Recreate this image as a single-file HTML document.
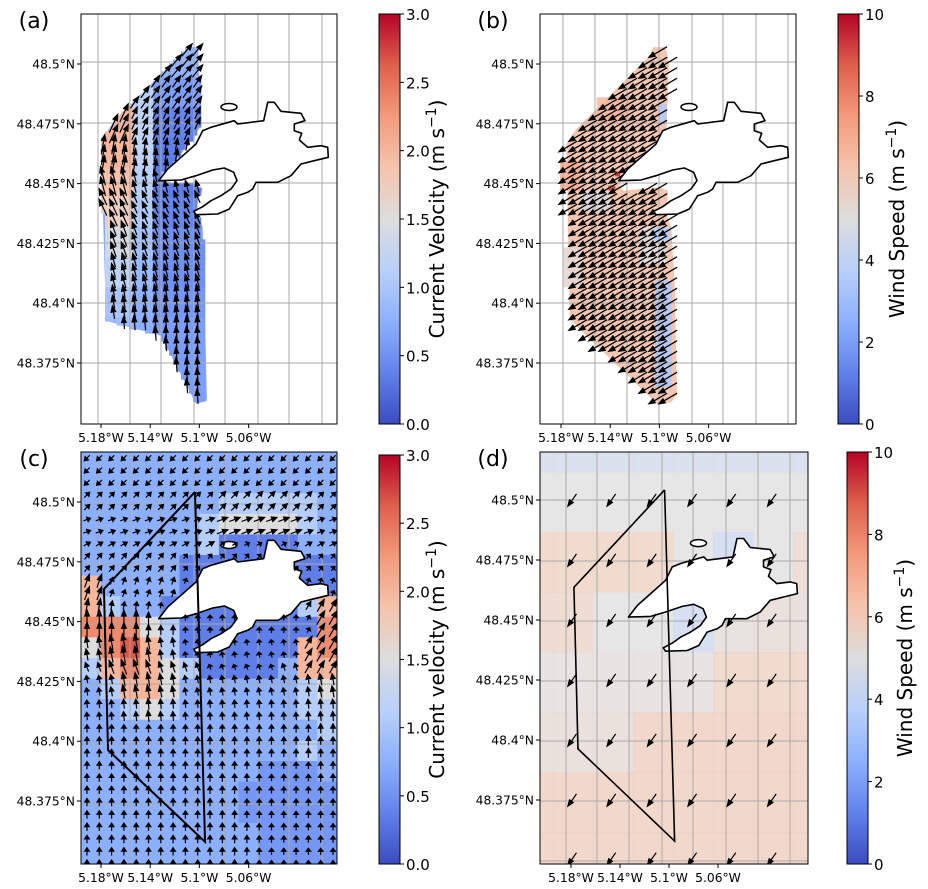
<!DOCTYPE html>
<html><head><meta charset="utf-8">
<style>
html,body{margin:0;padding:0;background:#fff;}
svg{display:block;font-family:"DejaVu Sans","Liberation Sans",sans-serif;}
</style></head>
<body>
<svg id="fig" width="928" height="889" viewBox="0 0 928 889" xmlns="http://www.w3.org/2000/svg">
<defs>
<linearGradient id="cwgrad" x1="0" y1="1" x2="0" y2="0">
<stop offset="0" stop-color="rgb(59,76,192)"/><stop offset="0.125" stop-color="rgb(98,130,234)"/>
<stop offset="0.25" stop-color="rgb(141,176,254)"/><stop offset="0.375" stop-color="rgb(184,208,249)"/>
<stop offset="0.5" stop-color="rgb(221,221,221)"/><stop offset="0.625" stop-color="rgb(245,196,173)"/>
<stop offset="0.75" stop-color="rgb(244,154,123)"/><stop offset="0.875" stop-color="rgb(222,96,77)"/>
<stop offset="1" stop-color="rgb(180,4,38)"/>
</linearGradient>
<clipPath id="clipA"><rect x="81" y="14" width="256" height="410"/></clipPath>
<clipPath id="clipB"><rect x="540" y="14" width="256" height="410"/></clipPath>
<clipPath id="clipC"><rect x="81" y="452" width="256" height="412"/></clipPath>
<clipPath id="clipD"><rect x="540" y="452" width="268" height="412"/></clipPath>
</defs>
</svg>
<script>
// ---------------- data ----------------
const lonTicks = [5.18, 5.14, 5.1, 5.06];
const lonTickLabels = ["5.18°W", "5.14°W", "5.1°W", "5.06°W"];
const latTicks = [48.5, 48.475, 48.45, 48.425, 48.4, 48.375];
const latTickLabels = ["48.5°N", "48.475°N", "48.45°N", "48.425°N", "48.4°N", "48.375°N"];
const currentTicks = [0, 0.5, 1, 1.5, 2, 2.5, 3];
const currentTickLabels = ["0.0", "0.5", "1.0", "1.5", "2.0", "2.5", "3.0"];
const windTicks = [0, 2, 4, 6, 8, 10];
const windTickLabels = ["0", "2", "4", "6", "8", "10"];
// (a) current direction per latitude band (deg clockwise from N), top->bottom
const aBandAngles = [40, 35, 25, 10, -15, -25, -20, -15, -10, -5, -5, -5];
const aBandSpeedLeft = [1.4, 1.7, 2.0, 2.0, 1.9, 1.7, 1.4, 1.2, 1.0, 0.9, 0.8, 0.8];
const aBandSpeedRight = [0.8, 0.6, 0.4, 0.35, 0.35, 0.4, 0.5, 0.5, 0.55, 0.6, 0.6, 0.6];
// (b) wind
const bWindAngle = 240;
const bWindSpeed = 6.2;
// (c) modelled current speed grid (13 cols x 20 rows), letters -> speed
const cSpeedCodes = {d:0.35, m:0.55, b:0.75, l:1.1, w:1.5, p:2.0, r:2.35, R:2.65};
const cSpeedRows = [
"bbbbbbbbbbbbb","bbbbbbbbbbbbb","bbbbbbblllllb","bbbbbblwwwwlb","bbbbbblddddbb",
"bbbbbdddddddd","pbbbbdddddddd","plbbdddddddlp","rrrwldddddddr","wrRplddddddpr",
"lprpwlddddbpp","blppwbbbbbblw","bblwlbbbbbbll","bbbbbbbbbbbbl","bbbbbbbbbbblb",
"bbbbbbbbbmmmb","bbbbbbbbmmmmm","bbbbbbbbmmmmm","bbbbbbbbbmmmm","bbbbbbbbbmmmm"];
const cAngleRows = [225,225,45,70,60,40,20,10,0,350,340,350,355,0,0,0,0,0,0,0];
// (d) modelled wind speed grid (8 cols x 8 rows)
const dSpeedRows = [
[4.5,4.5,4.5,4.5,4.5,4.5,4.5,4.5],
[5.0,5.0,5.0,5.0,5.0,5.0,5.0,5.0],
[5.8,5.8,5.8,5.8,5.0,4.3,5.0,5.5],
[5.6,5.6,5.0,5.0,4.3,5.2,5.3,5.3],
[5.1,5.1,5.1,5.1,5.1,5.8,5.8,5.8],
[5.3,5.3,5.3,5.9,5.9,5.9,5.9,5.9],
[5.9,5.9,5.9,5.9,5.9,5.9,5.9,5.9],
[5.9,5.9,5.9,5.9,5.9,5.9,5.9,5.9]];
const dArrowLons = [5.179, 5.147, 5.114, 5.081, 5.049, 5.016];
const dArrowLats = [48.5, 48.475, 48.45, 48.425, 48.4, 48.375, 48.3505];
const dWindAngle = 215;
// radar footprint quadrilateral (lon W, lat N)
const footLon = [5.1036, 5.1776, 5.1743, 5.0954, 5.1036];
const footLat = [48.5042, 48.4636, 48.3963, 48.3579, 48.5042];

const coastZ = [[233,500],[260,465],[300,430],[345,390],[365,350],[390,340],[460,320],[470,330],[548,320],[560,265],[580,265],[600,292],[660,298],[672,320],[640,330],[640,350],[662,358],[655,378],[680,400],[720,395],[740,400],[742,430],[700,440],[660,450],[630,485],[590,505],[525,505],[515,525],[500,535],[470,545],[445,585],[410,600],[345,602],[338,592],[365,578],[390,560],[420,545],[450,525],[468,500],[458,475],[430,462],[395,468],[345,485],[300,498],[233,500]];
const swathAZ = [[322,100],[352,100],[358,340],[300,420],[250,470],[233,500],[345,515],[365,525],[355,545],[345,590],[365,640],[378,1160],[345,1170],[240,965],[75,920],[60,380],[100,320],[180,240]];
const swathBZ = [[340,100],[378,100],[388,150],[380,360],[330,400],[300,440],[260,480],[240,510],[250,530],[300,525],[360,520],[385,530],[380,600],[395,640],[405,820],[412,1140],[395,1165],[355,1172],[150,975],[90,915],[80,390],[110,345],[330,125]];

// ---------------- helpers ----------------
const NS = "http://www.w3.org/2000/svg";
const svg = document.getElementById('fig');
function el(tag, attrs, parent){const e=document.createElementNS(NS,tag);for(const k in attrs)e.setAttribute(k,attrs[k]);(parent||svg).appendChild(e);return e;}
const CW=[[59,76,192],[98,130,234],[141,176,254],[184,208,249],[221,221,221],[245,196,173],[244,154,123],[222,96,77],[180,4,38]];
function cw(t){t=Math.max(0,Math.min(1,t));const p=t*8,i=Math.min(7,Math.floor(p)),f=p-i;const a=CW[i],b=CW[i+1];return `rgb(${Math.round(a[0]+(b[0]-a[0])*f)},${Math.round(a[1]+(b[1]-a[1])*f)},${Math.round(a[2]+(b[2]-a[2])*f)})`;}
const P = {
 a:{x0:81,y0:14,w:256,h:410,lx:101,ls:1230,ly:64,lys:2392,clip:'clipA'},
 b:{x0:540,y0:14,w:256,h:410,lx:561,ls:1230,ly:64,lys:2392,clip:'clipB'},
 c:{x0:81,y0:452,w:256,h:412,lx:101,ls:1230,ly:502,lys:2392,clip:'clipC'},
 d:{x0:540,y0:452,w:268,h:412,lx:571,ls:1225,ly:500,lys:2400,clip:'clipD'}};
function X(p,lonW){return p.lx+(5.18-lonW)*p.ls;}
function Y(p,lat){return p.ly+(48.5-lat)*p.lys;}
function zToGeo(z){const px=81+z[0]/3, py=14+z[1]/3;return [5.18-(px-101)/1230, 48.5-(py-64)/2392];}
const coastGeo = coastZ.map(zToGeo);
const swathAGeo = swathAZ.map(zToGeo);
const swathBGeo = swathBZ.map(z=>zToGeo([z[0]-4,z[1]]));
function polyPts(p,geo){return geo.map(g=>X(p,g[0]).toFixed(1)+','+Y(p,g[1]).toFixed(1)).join(' ');}
function inPoly(x,y,pts){let c=false;for(let i=0,j=pts.length-1;i<pts.length;j=i++){const xi=pts[i][0],yi=pts[i][1],xj=pts[j][0],yj=pts[j][1];if(((yi>y)!=(yj>y))&&(x<(xj-xi)*(y-yi)/(yj-yi)+xi))c=!c;}return c;}
function arrow(g,x,y,ang,len){
 const r=ang*Math.PI/180, ux=Math.sin(r), uy=-Math.cos(r);
 const tx=x-ux*len/2, ty=y-uy*len/2, hx=x+ux*len/2, hy=y+uy*len/2;
 const hl=Math.min(len*0.45,6), hw=2.3;
 const bx=hx-ux*hl, by=hy-uy*hl;
 const a=el('path',{d:`M${tx.toFixed(1)},${ty.toFixed(1)}L${bx.toFixed(1)},${by.toFixed(1)}M${hx.toFixed(1)},${hy.toFixed(1)}L${(bx-uy*hw).toFixed(1)},${(by+ux*hw).toFixed(1)}L${(bx+uy*hw).toFixed(1)},${(by-ux*hw).toFixed(1)}Z`,stroke:'#000','stroke-width':1.2,fill:'#000'},g);
 
 
}
function gridlines(g,p,vx,hy){
 vx.forEach(v=>el('line',{x1:p.x0+v,x2:p.x0+v,y1:p.y0,y2:p.y0+p.h,stroke:'#a9a9a9','stroke-width':1},g));
 hy.forEach(v=>el('line',{x1:p.x0,x2:p.x0+p.w,y1:p.y0+v,y2:p.y0+v,stroke:'#a9a9a9','stroke-width':1},g));
}
function coast(g,p){
 const c=el('polygon',{points:polyPts(p,coastGeo),fill:'#fff',stroke:'#000','stroke-width':1.6,'stroke-linejoin':'round'},g);
 
 
 const is=el('ellipse',{cx:X(p,5.18-(81+148-101)/1230),cy:Y(p,48.5-(14+93-64)/2392),rx:8,ry:3.5,fill:'#fff',stroke:'#000','stroke-width':1.5},g);
 
 
}
function axes(p,key){
 const g=el('g',{},svg);
 
 
 el('rect',{x:p.x0,y:p.y0,width:p.w,height:p.h,fill:'none',stroke:'#000','stroke-width':1},g);
 lonTicks.forEach((t,i)=>{const x=X(p,t);
  el('line',{x1:x,x2:x,y1:p.y0+p.h,y2:p.y0+p.h+4,stroke:'#000'},g);
  const tx=el('text',{x:x,y:p.y0+p.h+18,'font-size':12.3,'text-anchor':'middle',fill:'#000'},g);tx.textContent=lonTickLabels[i];
  
  });
 latTicks.forEach((t,i)=>{const y=Y(p,t);
  el('line',{x1:p.x0-4,x2:p.x0,y1:y,y2:y,stroke:'#000'},g);
  const tx=el('text',{x:p.x0-6,y:y+4.5,'font-size':12.3,'text-anchor':'end',fill:'#000'},g);tx.textContent=latTickLabels[i];
  
  });
 const lab=el('text',{x:p.x0-47,y:p.y0+14,'font-size':22,'text-anchor':'middle',fill:'#000'},g);lab.textContent='('+key+')';
 
 
}
function colorbar(x,y,w,h,ticks,labels,vmax,title,labX,name){
 const g=el('g',{},svg);
 
 
 el('rect',{x:x,y:y,width:w,height:h,fill:'url(#cwgrad)',stroke:'#000','stroke-width':1},g);
 ticks.forEach((t,i)=>{const ty=y+h-t/vmax*h;
  el('line',{x1:x+w,x2:x+w+4,y1:ty,y2:ty,stroke:'#000'},g);
  const tx=el('text',{x:x+w+6,y:ty+6,'font-size':15,fill:'#000'},g);tx.textContent=labels[i];
  
  });
 const tt=el('text',{x:labX,y:y+h/2,'font-size':20,'text-anchor':'middle',fill:'#000',transform:`rotate(-90 ${labX} ${y+h/2})`},g);
 tt.innerHTML=title+' (m s<tspan dy="-8" font-size="14">−1</tspan><tspan dy="8">)</tspan>';
 
 
}
const aGridV=[17,49,80,113,144,177,208,241], aGridH=[48,109,169,229,289,349];
const bGridV=[23,55,87,119,152,183,216,248];
const dGridV=[26,57,89,122,153,186,218,250], dGridH=[48,109,169,229,289,349,409];

// ---------------- panel (a) ----------------
(function(){
 const p=P.a; const g=el('g',{'clip-path':'url(#'+p.clip+')'});
  
 const sw=el('polygon',{points:polyPts(p,swathAGeo),fill:'#8dabf3'},g);
  
 const bandH=30;
 const ptsZ=swathAZ.map(z=>[81+z[0]/3,14+z[1]/3]);
 aBandSpeedLeft.forEach((s,i)=>{
  const y=p.y0+100/3+i*bandH;
  for(let xx=p.x0;xx<p.x0+p.w;xx+=4){for(let yy=y;yy<y+bandH;yy+=4){
   if(!inPoly(xx+2,yy+2,ptsZ))continue;
   const zx=(xx-81)*3; const spd = zx<150? s : (zx<210? (s+aBandSpeedRight[i])/2 : aBandSpeedRight[i]);
   el('rect',{x:xx,y:yy,width:4.3,height:4.3,fill:cw(spd/3)},g);}}
 });
 gridlines(g,p,aGridV,aGridH);
 for(let yy=p.y0+36;yy<p.y0+p.h;yy+=10.5){for(let xx=p.x0+22;xx<p.x0+130;xx+=10.5){
  if(!inPoly(xx,yy,ptsZ))continue;
  const i=Math.max(0,Math.min(aBandAngles.length-1,Math.floor((yy-p.y0-33)/30)));
  const spd=(xx-81)*3<150?aBandSpeedLeft[i]:aBandSpeedRight[i]+0.6;
  arrow(g,xx,yy,aBandAngles[i],6+spd*7);}}
 coast(g,p);
 axes(p,'a');
})();
// ---------------- panel (b) ----------------
(function(){
 const p=P.b; const g=el('g',{'clip-path':'url(#'+p.clip+')'});
  
 const sw=el('polygon',{points:polyPts(p,swathBGeo),fill:cw(bWindSpeed/10)},g);
  
 [[70,700,60,120,5.3],[120,530,90,60,4.8],[300,640,80,110,5.0],[355,270,25,60,3.5],[340,640,50,40,3.6],[345,800,50,320,3.4],[60,440,60,90,7.0],[170,250,100,80,6.6]].forEach(r=>{
  const q=el('rect',{x:540+r[0]/3,y:14+r[1]/3,width:r[2]/3,height:r[3]/3,fill:cw(r[4]/10),opacity:0.85},g);
   });
 el('rect',{x:540+225/3,y:14+472/3,width:5,height:5,fill:cw(0.92)},g);
 el('rect',{x:540+205/3,y:14+515/3,width:7,height:5,fill:cw(0.9)},g);
 gridlines(g,p,bGridV,aGridH);
 const ptsZ=swathBZ.map(z=>[540+z[0]/3,14+z[1]/3]);
 for(let yy=p.y0+38;yy<p.y0+p.h;yy+=10.5){for(let xx=p.x0+28;xx<p.x0+140;xx+=10){
  if(!inPoly(xx,yy,ptsZ))continue;
  arrow(g,xx,yy,bWindAngle,5+bWindSpeed*2.6);}}
 coast(g,p);
 axes(p,'b');
})();
// ---------------- panel (c) ----------------
(function(){
 const p=P.c; const g=el('g',{'clip-path':'url(#'+p.clip+')'});
  
 const cols=cSpeedRows[0].length, rows=cSpeedRows.length, cw_=p.w/cols, ch=p.h/rows;
 cSpeedRows.forEach((row,r)=>{[...row].forEach((ch_,c)=>{
  const v=cSpeedCodes[ch_];
  const cell=el('rect',{x:p.x0+c*cw_,y:p.y0+r*ch,width:cw_+0.5,height:ch+0.5,fill:v===undefined?'#fff':cw(v/3)},g);
   });});
 gridlines(g,p,aGridV,[52,112,172,232,292,352]);
 coast(g,p);
 const coastPx=coastGeo.map(c=>[X(p,c[0]),Y(p,c[1])]);
 for(let yy=p.y0+6;yy<p.y0+p.h;yy+=12.3){for(let xx=p.x0+6;xx<p.x0+p.w;xx+=12.3){
  const c=Math.min(cols-1,Math.floor((xx-p.x0)/cw_)), r=Math.min(rows-1,Math.floor((yy-p.y0)/ch));
  const v=cSpeedCodes[cSpeedRows[r][c]]; if(v===undefined)continue;
  if(inPoly(xx,yy,coastPx))continue;
  let ang=cAngleRows[r]; if(c>=11&&r>=7&&r<=10)ang=30;
  arrow(g,xx,yy,ang,4+v*5);}}
 const f=el('polyline',{points:footLon.map((l,i)=>X(p,l)+','+Y(p,footLat[i])).join(' '),fill:'none',stroke:'#000','stroke-width':2},g);
  
 axes(p,'c');
})();
// ---------------- panel (d) ----------------
(function(){
 const p=P.d; const g=el('g',{'clip-path':'url(#'+p.clip+')'});
  
 const xb=[0,13,53,93,133,173,213,253,268], yb=[0,20,80,140,200,260,320,380,412];
 dSpeedRows.forEach((row,r)=>row.forEach((v,c)=>{
  const cell=el('rect',{x:p.x0+xb[c],y:p.y0+yb[r],width:xb[c+1]-xb[c]+0.5,height:yb[r+1]-yb[r]+0.5,fill:cw(v/10),opacity:0.75},g);
   }));
 gridlines(g,p,dGridV,dGridH);
 coast(g,p);
 dArrowLats.forEach(la=>dArrowLons.forEach(lo=>arrow(g,X(p,lo),Y(p,la),dWindAngle,15)));
 const f=el('polyline',{points:footLon.map((l,i)=>X(p,l)+','+Y(p,footLat[i])).join(' '),fill:'none',stroke:'#000','stroke-width':1.6},g);
  
 axes(p,'d');
})();
colorbar(379,14,21,410,currentTicks,currentTickLabels,3,'Current Velocity',444,'colorbar-a');
colorbar(838,14,21,410,windTicks,windTickLabels,10,'Wind Speed',904,'colorbar-b');
colorbar(379,455,21,409,currentTicks,currentTickLabels,3,'Current velocity',444,'colorbar-c');
colorbar(847,452,21,412,windTicks,windTickLabels,10,'Wind Speed',912,'colorbar-d');
</script>
</body></html>
